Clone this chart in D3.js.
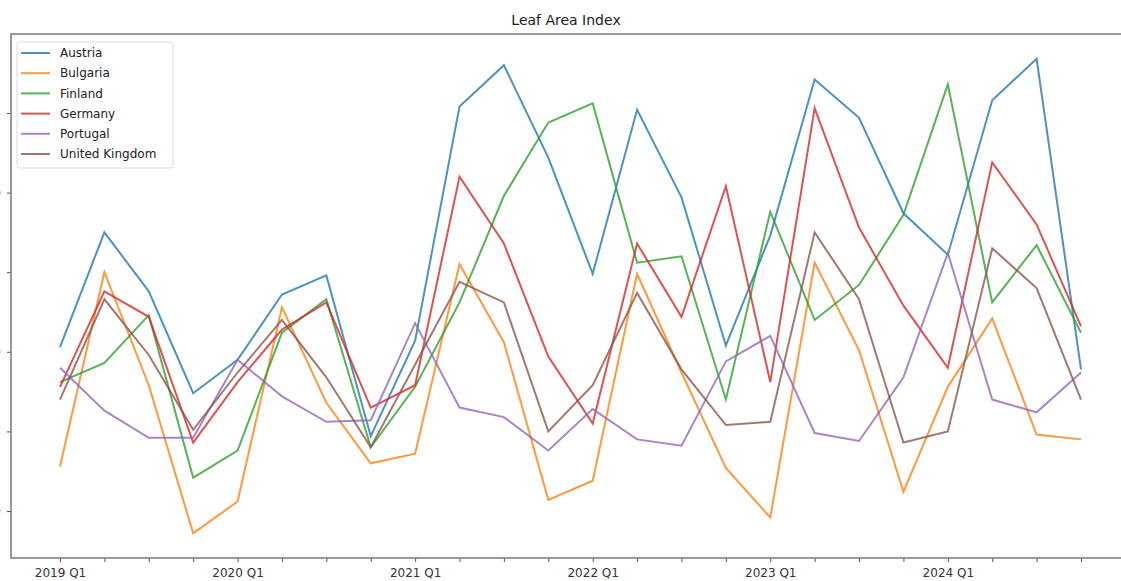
<!DOCTYPE html>
<html>
<head>
<meta charset="utf-8">
<script src="https://cdn.jsdelivr.net/npm/d3@7"></script>
<style>
  body { margin: 0; background: #fff; }
  svg { display: block; font-family: "DejaVu Sans", sans-serif; }
</style>
</head>
<body>
<div id="chart"></div>
<script>
var w = 1121;
var h = 581;

var quarters = [
    "2019 Q1", "2019 Q2", "2019 Q3", "2019 Q4",
    "2020 Q1", "2020 Q2", "2020 Q3", "2020 Q4",
    "2021 Q1", "2021 Q2", "2021 Q3", "2021 Q4",
    "2022 Q1", "2022 Q2", "2022 Q3", "2022 Q4",
    "2023 Q1", "2023 Q2", "2023 Q3", "2023 Q4",
    "2024 Q1", "2024 Q2", "2024 Q3", "2024 Q4"
];

var countries = ["Austria", "Bulgaria", "Finland", "Germany", "Portugal", "United Kingdom"];
var colors = ["#1f77b4", "#ff7f0e", "#2ca02c", "#d62728", "#9467bd", "#8c564b"];

var austria = [2.03, 2.75, 2.38, 1.74, 1.95, 2.36, 2.48, 1.47, 2.07, 3.54, 3.80, 3.22,
               2.49, 3.52, 2.97, 2.04, 2.73, 3.71, 3.47, 2.87, 2.61, 3.58, 3.84, 1.89];
var bulgaria = [1.28, 2.50, 1.79, 0.86, 1.06, 2.28, 1.68, 1.30, 1.36, 2.55, 2.06, 1.07,
                1.19, 2.49, 1.87, 1.27, 0.96, 2.56, 2.01, 1.12, 1.78, 2.21, 1.48, 1.45];
var finland = [1.81, 1.93, 2.23, 1.21, 1.38, 2.12, 2.33, 1.40, 1.78, 2.31, 2.98, 3.44,
               3.56, 2.56, 2.60, 1.70, 2.88, 2.20, 2.42, 2.86, 3.68, 2.31, 2.67, 2.12];
var germany = [1.78, 2.38, 2.22, 1.43, 1.81, 2.14, 2.31, 1.65, 1.79, 3.10, 2.68, 1.97,
               1.55, 2.68, 2.22, 3.04, 1.81, 3.53, 2.78, 2.29, 1.90, 3.19, 2.80, 2.16];
var portugal = [1.90, 1.63, 1.46, 1.46, 1.95, 1.72, 1.56, 1.57, 2.18, 1.65, 1.59, 1.38,
                1.64, 1.45, 1.41, 1.94, 2.10, 1.49, 1.44, 1.84, 2.62, 1.70, 1.62, 1.87];
var unitedKingdom = [1.70, 2.33, 1.98, 1.51, 1.87, 2.20, 1.84, 1.40, 1.92, 2.44, 2.31, 1.50,
                     1.79, 2.37, 1.89, 1.54, 1.56, 2.75, 2.33, 1.43, 1.50, 2.65, 2.40, 1.70];

var yTicks = [1.0, 1.5, 2.0, 2.5, 3.0, 3.5];

var series = [austria, bulgaria, finland, germany, portugal, unitedKingdom];

var x = d3.scaleLinear()
    .domain([0, quarters.length - 1])
    .range([60, 1081]);

var y = d3.scaleLinear()
    .domain([0.705, 3.996])
    .range([558, 34]);

var svg = d3.select("#chart")
    .append("svg")
    .attr("width", w)
    .attr("height", h);

// title
svg.append("text")
    .attr("x", 566)
    .attr("y", 25)
    .attr("text-anchor", "middle")
    .style("font-size", "14px")
    .style("fill", "#222")
    .text("Leaf Area Index");

// x axis
var xAxis = d3.axisBottom(x)
    .tickValues(d3.range(quarters.length))
    .tickSize(4)
    .tickPadding(6)
    .tickFormat(function(i) { return i % 4 === 0 ? quarters[i] : ""; });

var gx = svg.append("g")
    .attr("transform", "translate(0,558)")
    .call(xAxis);
gx.select(".domain").remove();
gx.selectAll("line").attr("stroke", "#555");
gx.selectAll("text")
    .style("font-size", "12px")
    .style("font-family", "DejaVu Sans, sans-serif")
    .attr("fill", "#333");

// y axis (labels sit mostly past the left edge, as in the cropped original)
var yAxis = d3.axisLeft(y)
    .tickValues(yTicks)
    .tickSize(4)
    .tickPadding(6)
    .tickFormat(d3.format(".1f"));

var gy = svg.append("g")
    .attr("transform", "translate(11,0)")
    .call(yAxis);
gy.select(".domain").remove();
gy.selectAll("line").attr("stroke", "#555");
gy.selectAll("text")
    .style("font-size", "12px")
    .style("font-family", "DejaVu Sans, sans-serif")
    .attr("fill", "#333");

// lines
var line = d3.line()
    .x(function(d, i) { return x(i); })
    .y(function(d) { return y(d); });

svg.selectAll("path.series")
    .data(series)
    .enter()
    .append("path")
    .attr("class", "series")
    .attr("d", line)
    .attr("fill", "none")
    .attr("stroke", function(d, i) { return colors[i]; })
    .attr("stroke-width", 2)
    .attr("stroke-opacity", 0.8)
    .attr("stroke-linejoin", "miter");

// frame
svg.append("rect")
    .attr("x", 11)
    .attr("y", 34)
    .attr("width", 1140)
    .attr("height", 524)
    .attr("fill", "none")
    .attr("stroke", "#808080")
    .attr("stroke-width", 1.6);

// legend
var legend = svg.append("g").attr("transform", "translate(17,42)");
legend.append("rect")
    .attr("width", 156)
    .attr("height", 126)
    .attr("rx", 3)
    .attr("fill", "#fff")
    .attr("fill-opacity", 0.8)
    .attr("stroke", "#ddd");

var item = legend.selectAll("g.item")
    .data(countries)
    .enter()
    .append("g")
    .attr("class", "item")
    .attr("transform", function(d, i) { return "translate(0," + (11 + i * 20.2) + ")"; });

item.append("line")
    .attr("x1", 4)
    .attr("x2", 33)
    .attr("stroke", function(d, i) { return colors[i]; })
    .attr("stroke-width", 2)
    .attr("stroke-opacity", 0.8);

item.append("text")
    .attr("x", 43)
    .attr("dy", "0.35em")
    .style("font-size", "12px")
    .style("fill", "#222")
    .text(function(d) { return d; });
</script>
</body>
</html>
